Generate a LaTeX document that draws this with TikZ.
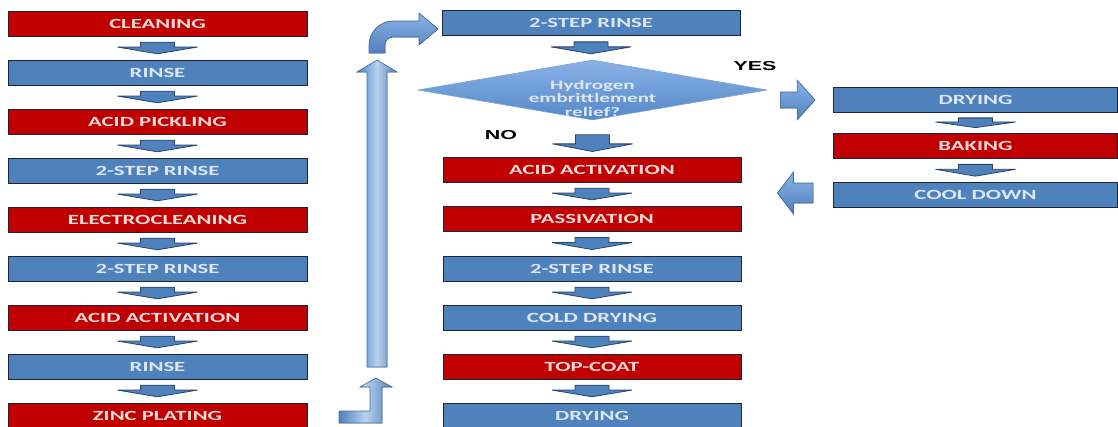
\documentclass[tikz,border=0pt]{standalone}
\usepackage{fontspec}
\usetikzlibrary{calc,shapes.geometric}
\newfontfamily\boxfont{Carlito}[FakeStretch=1.62]
\newfontfamily\ynfont{Liberation Sans}[FakeStretch=1.65]
\definecolor{pred}{HTML}{C00000}
\definecolor{pblue}{HTML}{4F81BD}
\definecolor{pedge}{HTML}{1C2533}
\definecolor{aedge}{HTML}{2A4468}
\definecolor{redtxt}{HTML}{F6D9D9}
\definecolor{bluetxt}{HTML}{DDE7F4}
\definecolor{lightblue}{HTML}{B9D0EE}
\definecolor{diatop}{HTML}{8AB2E6}
\definecolor{diabot}{HTML}{5587C8}
\tikzset{
  box/.style={draw=pedge, line width=0.9pt, minimum height=25pt, inner sep=0pt,
    font=\boxfont\bfseries\fontsize{14}{14}\selectfont},
  redbox/.style={box, fill=pred, text=redtxt},
  bluebox/.style={box, fill=pblue, text=bluetxt},
  lw/.style={minimum width=299pt},
  mw/.style={minimum width=298pt},
  rw/.style={minimum width=284pt},
  smallarr/.style={fill=pblue, draw=aedge, line width=0.8pt, line join=miter},
  bigarr/.style={draw=pblue!80!black, line width=0.6pt, top color=diatop, bottom color=pblue},
  chanarr/.style={draw=pblue!85!black, line width=0.6pt, left color=pblue, right color=pblue, middle color=lightblue},
  yn/.style={font=\ynfont\bfseries\fontsize{13}{13}\selectfont, text=black, inner sep=0pt}
}
\newcommand\darrowgen[5]{%
  \filldraw[smallarr] let \p1=(#1.south), \p2=(#2.north), \n1={\y1-\y2} in
    (\x1-17pt,{\y1-#3*\n1}) -- (\x1+17pt,{\y1-#3*\n1}) -- (\x1+17pt,{\y1-#4*\n1})
    -- (\x1+40pt,{\y1-#4*\n1}) -- (\x1,{\y1-#5*\n1}) -- (\x1-40pt,{\y1-#4*\n1})
    -- (\x1-17pt,{\y1-#4*\n1}) -- cycle;}
\newcommand\darrow[2]{\darrowgen{#1}{#2}{0.25}{0.46}{0.75}}
\begin{document}
\begin{tikzpicture}[x=1pt,y=-1pt]
\useasboundingbox (0,0) rectangle (1118,426);
% left column
\node[redbox,lw]  (l1) at (157.5,23.5)  {CLEANING};
\node[bluebox,lw] (l2) at (157.5,72.5)  {RINSE};
\node[redbox,lw]  (l3) at (157.5,121.5) {ACID PICKLING};
\node[bluebox,lw] (l4) at (157.5,170.5) {2-STEP RINSE};
\node[redbox,lw]  (l5) at (157.5,219.5) {ELECTROCLEANING};
\node[bluebox,lw] (l6) at (157.5,268.5) {2-STEP RINSE};
\node[redbox,lw]  (l7) at (157.5,317.5) {ACID ACTIVATION};
\node[bluebox,lw] (l8) at (157.5,366.5) {RINSE};
\node[redbox,lw]  (l9) at (157.5,415.5) {ZINC PLATING};
% middle column
\node[bluebox,mw] (m1) at (591,23) {2-STEP RINSE};
\node[shape=diamond, minimum width=349pt, minimum height=60pt, inner sep=0pt,
      draw=diatop!70!pblue, line width=0.6pt, top color=diatop, bottom color=diabot] (dia) at (592.5,90) {};
\node[font=\boxfont\bfseries\fontsize{13}{13.5}\selectfont, text=bluetxt, align=center, inner sep=0pt]
      (dtext) at (592.5,98) {Hydrogen\\embrittlement\\relief?};
\node[redbox,mw]  (m2) at (592,169.5) {ACID ACTIVATION};
\node[redbox,mw]  (m3) at (592,218.5) {PASSIVATION};
\node[bluebox,mw] (m4) at (592,268.5) {2-STEP RINSE};
\node[bluebox,mw] (m5) at (592,317.5) {COLD DRYING};
\node[redbox,mw]  (m6) at (592,366.5) {TOP-COAT};
\node[bluebox,mw] (m7) at (592,415.5) {DRYING};
% right column
\node[bluebox,rw] (r1) at (975.5,100)   {DRYING};
\node[redbox,rw]  (r2) at (975.5,145.5) {BAKING};
\node[bluebox,rw] (r3) at (975.5,195)   {COOL DOWN};
% labels
\node[yn] (yes) at (755,66)  {YES};
\node[yn] (no)  at (501,135) {NO};
% small down arrows
\darrow{l1}{l2}\darrow{l2}{l3}\darrow{l3}{l4}\darrow{l4}{l5}
\darrow{l5}{l6}\darrow{l6}{l7}\darrow{l7}{l8}\darrow{l8}{l9}
\darrow{m1}{dia}
\darrowgen{dia}{m2}{0.4}{0.65}{0.86}
\darrow{m2}{m3}\darrow{m3}{m4}\darrow{m4}{m5}\darrow{m5}{m6}\darrow{m6}{m7}
\darrow{r1}{r2}\darrow{r2}{r3}
% YES arrow
\filldraw[bigarr] let \p1=(dia.east), \p2=(r1.west) in
  (\x1+13pt,\y2+8pt) -- (\x2-36pt,\y2+8pt) -- (\x2-36pt,\y2+20pt) -- (\x2-18pt,\y2)
  -- (\x2-36pt,\y2-20pt) -- (\x2-36pt,\y2-8pt) -- (\x1+13pt,\y2-8pt) -- cycle;
% return arrow
\filldraw[bigarr] let \p1=(r3.west), \p2=(m2.east) in
  (\x1-20pt,\y1+12pt) -- (\x2+52pt,\y1+12pt) -- (\x2+52pt,\y1+23pt) -- (\x2+36pt,\y1+2pt)
  -- (\x2+52pt,\y1-19pt) -- (\x2+52pt,\y1-8pt) -- (\x1-20pt,\y1-8pt) -- cycle;
% channel arrows
\coordinate (lstart) at (339,417);
\coordinate (ubot) at (377,367);
\coordinate (utop) at (377,60);
\coordinate (btip) at (438,29);
\filldraw[chanarr] (lstart) ++(0,-6) -- (370,411) -- (370,387) -- (360,387) -- (376,378)
  -- (392,387) -- (382,387) -- (382,423) -- (339,423) -- cycle;
\filldraw[chanarr] let \p1=(ubot), \p2=(utop) in
  (\x1-10pt,\y1) -- (\x1-10pt,\y2-12pt) -- (\x1-20pt,\y2-12pt) -- (\x2,\y2)
  -- (\x1+20pt,\y2-12pt) -- (\x1+10pt,\y2-12pt) -- (\x1+10pt,\y1) -- cycle;
\filldraw[bigarr] (369,53) -- (369,45) .. controls (369,32) and (380,21) .. (393,21)
  -- (419,21) -- (419,13) -- (btip) -- (419,45) -- (419,37) -- (393,37)
  .. controls (388.6,37) and (385,40.6) .. (385,45) -- (385,53) -- cycle;
\end{tikzpicture}
\end{document}
